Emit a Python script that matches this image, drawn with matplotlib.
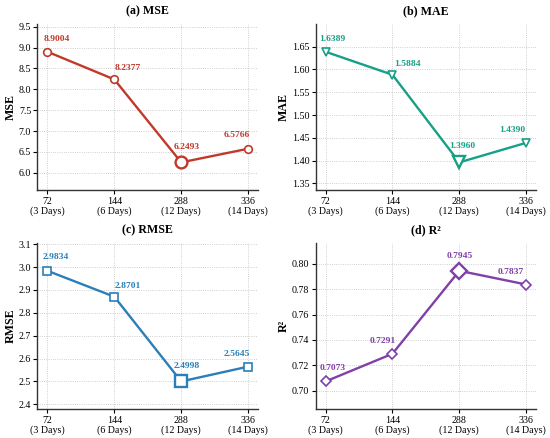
import numpy as np
import matplotlib
matplotlib.use("Agg")
import matplotlib.pyplot as plt

plt.rcParams['font.family'] = ['Liberation Serif', 'DejaVu Serif']

horizons = ['72\n(3 Days)', '144\n(6 Days)', '288\n(12 Days)', '336\n(14 Days)']
mse = [8.9004, 8.2377, 6.2493, 6.5766]
mae = [1.6389, 1.5884, 1.3960, 1.4390]
rmse = [2.9834, 2.8701, 2.4998, 2.5645]
r2 = [0.7073, 0.7291, 0.7945, 0.7837]

panels = [
    ('(a) MSE', 'MSE', mse, '#c0392b', 'o', 'min',
     [(7, 6), (10, 5), (4, 8), (-8, 7)], [0.5]),
    ('(b) MAE', 'MAE', mae, '#17a085', 'v', 'min',
     [(5, 6), (11, 5), (2, 9), (-10, 6)], [0.05]),
    ('(c) RMSE', 'RMSE', rmse, '#2a7fb8', 's', 'min',
     [(6, 7), (10, 5), (4, 8), (-8, 6)], [0.1]),
    ('(d) R²', 'R²', r2, '#8040a8', 'D', 'max',
     [(5, 7), (-7, 6), (0, 8), (-11, 6)], [0.02]),
]

fig, axes = plt.subplots(2, 2, figsize=(5.5, 4.38), dpi=100)
fig.subplots_adjust(left=0.068, right=0.975, top=0.945, bottom=0.066,
                    wspace=0.26, hspace=0.32)

x = np.arange(len(horizons))
for ax, (title, ylab, vals, col, mk, best, offs, step) in zip(axes.flat, panels):
    vals = np.array(vals)
    ax.plot(x, vals, color=col, lw=1.7, marker=mk, ms=5.5,
            mfc='white', mec=col, mew=1.2, zorder=3)
    b = np.argmin(vals) if best == 'min' else np.argmax(vals)
    ax.plot(x[b], vals[b], marker=mk, ms=8.5, mfc='white', mec=col,
            mew=1.7, zorder=4, ls='none')
    for i, v in enumerate(vals):
        ax.annotate(f'{v:.4f}', (x[i], v), textcoords='offset points',
                    xytext=offs[i], ha='center', va='bottom',
                    fontsize=6.8, fontweight='bold', color=col)
    rng = vals.max() - vals.min()
    ax.set_ylim(vals.min() - 0.25 * rng, vals.max() + 0.25 * rng)
    ax.yaxis.set_major_locator(matplotlib.ticker.MultipleLocator(step[0]))
    ax.set_xlim(-0.15, 3.15)
    ax.set_xticks(x)
    ax.set_xticklabels(horizons, fontsize=7.2, linespacing=1.0)
    ax.tick_params(axis='y', labelsize=7.2, length=3, width=0.8, pad=1.5)
    ax.tick_params(axis='x', length=3, width=0.8, pad=2)
    ax.set_title(title, fontsize=8.6, fontweight='bold', pad=7)
    ax.set_ylabel(ylab, fontsize=8.6, fontweight='bold', labelpad=1.5)
    ax.grid(True, ls=':', lw=0.6, color='#b0b0b0', alpha=0.8)
    ax.set_axisbelow(True)
    for s in ['top', 'right']:
        ax.spines[s].set_visible(False)
    for s in ['left', 'bottom']:
        ax.spines[s].set_linewidth(1.0)
        ax.spines[s].set_color('#333333')

fig.savefig('out.png', dpi=100)
